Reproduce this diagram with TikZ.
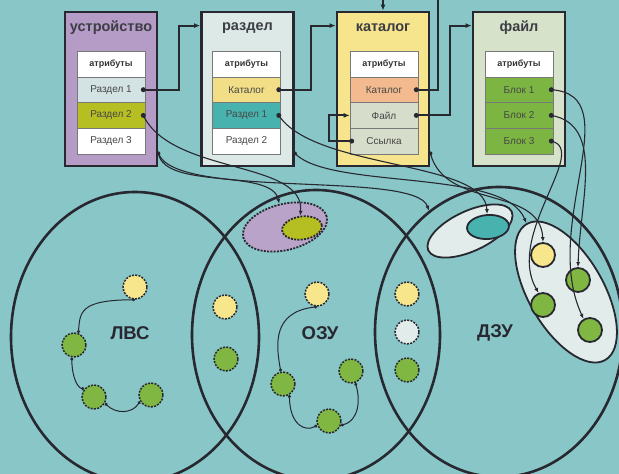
\documentclass[tikz,border=0pt]{standalone}
\usepackage{fontspec}
\setmainfont{Liberation Sans}
\usetikzlibrary{shapes.geometric,arrows.meta}

\definecolor{bgTeal}{RGB}{136,198,200}
\definecolor{ink}{RGB}{40,40,48}
\definecolor{devFill}{RGB}{180,156,199}
\definecolor{partFill}{RGB}{220,233,230}
\definecolor{catFill}{RGB}{246,229,140}
\definecolor{fileFill}{RGB}{214,227,202}
\definecolor{rowLine}{RGB}{120,120,120}
\definecolor{paleRow}{RGB}{211,226,226}
\definecolor{oliveRow}{RGB}{181,191,34}
\definecolor{yelRow}{RGB}{242,222,134}
\definecolor{tealRow}{RGB}{72,178,174}
\definecolor{orRow}{RGB}{242,186,142}
\definecolor{greyRow}{RGB}{214,221,202}
\definecolor{greenRow}{RGB}{124,181,66}
\definecolor{dotYel}{RGB}{248,230,140}
\definecolor{dotGreen}{RGB}{128,182,66}
\definecolor{paleFill}{RGB}{226,236,234}
\definecolor{purpFill}{RGB}{185,163,200}

\begin{document}
\begin{tikzpicture}
[x=1pt,y=-1pt,
  boxDecorate/.style={draw=ink,line width=2.8pt,minimum width=92,minimum height=154,inner sep=0pt},%
  titleDecorate/.style={text=ink!90,font=\bfseries\fontsize{14.5}{15}\selectfont},%
  rowDecorate/.style={draw=rowLine,line width=0.6pt,minimum width=68,minimum height=25.7,
    inner sep=0pt,text=black!72,font=\fontsize{10}{10}\selectfont},%
  dotDecorate/.style={shape=circle,fill=ink,inner sep=0pt,minimum size=5pt},%
  ringDecorate/.style={shape=ellipse,draw=ink,line width=2.6pt,minimum width=248,minimum height=290},%
  bagDecorate/.style={shape=ellipse,draw=ink,line width=1.8pt},%
  cellDecorate/.style={shape=circle,draw=ink,line width=1.8pt,minimum size=24,inner sep=0pt},%
  ramDecorate/.style={shape=circle,draw=ink,line width=1.5pt,dash pattern=on 2pt off 1.3pt,
    minimum size=24,inner sep=0pt},%
  labelDecorate/.style={text=ink,font=\bfseries\fontsize{18.5}{19}\selectfont},%
  linkDecorate/.style={-{Latex[length=6pt,width=5pt]},line width=2pt,draw=ink},%
  curveDecorate/.style={-{Latex[length=5pt,width=4pt]},line width=1.1pt,draw=ink},%
  chainDecorate/.style={{Circle[length=3pt]}-{Circle[length=3pt]},line width=1pt,draw=ink}]
\path[use as bounding box,fill=bgTeal] (0,0) rectangle (619,474);
\clip (0,0) rectangle (619,474);

%% storage rings
\node[ringDecorate] (lvs) at (135,337) {};
\node[ringDecorate] (ozu) at (316,335) {};
\node[ringDecorate] (dzu) at (499,332) {};
\node[labelDecorate] (lvsT) at (130,333) {ЛВС};
\node[labelDecorate] (ozuT) at (320,333) {ОЗУ};
\node[labelDecorate] (dzuT) at (495,333) {ДЗУ};

%% records
\node[boxDecorate,fill=devFill] (dev) at (111,89) {};
\node[boxDecorate,fill=partFill] (part) at (247.5,89) {};
\node[boxDecorate,fill=catFill] (cat) at (383,89) {};
\node[boxDecorate,fill=fileFill] (file) at (519,89) {};
\foreach \nodename/\txt/\x in {devT/устройство/111, partT/раздел/247.5,
  catT/каталог/383, fileT/файл/519}
{
  \node[titleDecorate] (\nodename) at (\x,28) {\txt};
}
\foreach \nodename/\x in {dev0/111, part0/246.5, cat0/384, file0/519}
{
  \node[rowDecorate,fill=white,text=black!80,font=\bfseries\fontsize{9}{9}\selectfont]
    (\nodename) at (\x,64) {атрибуты};
}
\foreach \nodename/\txt/\col/\x/\y in {
  dev1/Раздел 1/paleRow/111/89.7, dev2/Раздел 2/oliveRow/111/115.4,
  dev3/Раздел 3/white/111/141.1,
  part1/Каталог/yelRow/246.5/89.7, part2/Раздел 1/tealRow/246.5/115.4,
  part3/Раздел 2/white/246.5/141.1,
  cat1/Каталог/orRow/384/89.7, cat2/Файл/greyRow/384/115.4,
  cat3/Ссылка/greyRow/384/141.1,
  file1/Блок 1/greenRow/519/89.7, file2/Блок 2/greenRow/519/115.4,
  file3/Блок 3/greenRow/519/141.1}
{
  \node[rowDecorate,fill=\col] (\nodename) at (\x,\y) {\txt};
}
%% pointer dots
\foreach \nodename in {dev1,dev2,part1,part2,cat1,cat2,file1,file2,file3}
{
  \node[dotDecorate] (p\nodename) at ([xshift=-2pt]\nodename.east) {};
}
\node[dotDecorate] (pcat3) at ([xshift=2pt]cat3.west) {};
\foreach \nodename in {dev,part,cat}
{
  \node[dotDecorate,minimum size=4pt] (c\nodename) at ([yshift=14pt]\nodename.south east) {};
}
\coordinate (topOut) at (438,0);
\coordinate (topIn) at (383,0);

%% links between records
\draw[linkDecorate] (pdev1.center) -- ++(36,0) |- ([yshift=-15pt]part.north west);
\draw[linkDecorate] (ppart1.center) -- ++(32,0) |- ([yshift=-15pt]cat.north west);
\draw[linkDecorate] (pcat2.center) -- ++(34,0) |- ([yshift=-15pt]file.north west);
\draw[linkDecorate] (pcat3.center) -- ++(-23,0) |- (cat2.west);
\draw[line width=2pt,draw=ink] (pcat1.center) -| (topOut);
\draw[linkDecorate] (topIn) -- (cat.north);

%% placement in memory
\node[bagDecorate,fill=purpFill,dash pattern=on 2pt off 1.3pt,minimum width=86,
  minimum height=46,rotate=14] (purp) at (285,227) {};
\node[bagDecorate,fill=oliveRow,dash pattern=on 2pt off 1.3pt,minimum width=40,
  minimum height=23,rotate=8] (olive) at (302,228) {};
\node[bagDecorate,fill=paleFill,minimum width=92,minimum height=40,rotate=25] (pale) at (470,231) {};
\node[bagDecorate,fill=tealRow,minimum width=42,minimum height=24,rotate=4] (teal) at (488,227) {};
\node[bagDecorate,fill=paleFill,minimum width=157,minimum height=75,rotate=-60] (blocks) at (566,292) {};
\node[cellDecorate,fill=dotYel] (byel) at (543,255) {};
\node[cellDecorate,fill=dotGreen] (bg1) at (578,280) {};
\node[cellDecorate,fill=dotGreen] (bg2) at (543,305) {};
\node[cellDecorate,fill=dotGreen] (bg3) at (590,330) {};

%% cells of the rings
\foreach \nodename/\col/\x/\y in {
  ly/dotYel/135/287, lg1/dotGreen/74/345, lg2/dotGreen/94/397, lg3/dotGreen/151/395,
  my1/dotYel/225/307, mg1/dotGreen/226/359,
  oy/dotYel/317/294, og1/dotGreen/283/384, og2/dotGreen/329/421, og3/dotGreen/351/371,
  ny1/dotYel/407/294, nw1/paleFill/407/332, ng1/dotGreen/407/370}
{
  \node[ramDecorate,fill=\col] (\nodename) at (\x,\y) {};
}
\draw[chainDecorate] (ly.south) .. controls (80,300) and (80,312) .. (lg1.70);
\draw[chainDecorate] (lg1.-100) .. controls (72,378) and (78,388) .. (lg2.140);
\draw[chainDecorate] (lg2.-30) .. controls (116,414) and (132,414) .. (lg3.-150);
\draw[chainDecorate] (oy.south) .. controls (272,312) and (276,345) .. (og1.100);
\draw[chainDecorate] (og1.-60) .. controls (290,425) and (305,432) .. (og2.-160);
\draw[chainDecorate] (og2.-20) .. controls (360,420) and (360,398) .. (og3.-70);

%% pointers into memory
\draw[curveDecorate] (cdev.center) .. controls (165,190) and (272,168) .. (purp.north);
\draw[curveDecorate] (pdev2.center) .. controls (172,175) and (305,160) .. (olive.north);
\draw[curveDecorate] (cdev.center) .. controls (175,200) and (415,170) .. (dzu.120);
\draw[curveDecorate] (ppart2.center) .. controls (315,170) and (485,160) .. (teal.north);
\draw[curveDecorate] (cpart.center) .. controls (330,190) and (505,168) .. (blocks.west);
\draw[curveDecorate] (ccat.center) .. controls (445,210) and (540,185) .. (byel.north);
\draw[curveDecorate] (pfile1.center) .. controls (630,95) and (540,225) .. (bg3.120);
\draw[curveDecorate] (pfile2.center) .. controls (605,125) and (580,200) .. (bg1.north);
\draw[curveDecorate] (pfile3.center) .. controls (590,150) and (505,235) .. (bg2.110);
\end{tikzpicture}
\end{document}
